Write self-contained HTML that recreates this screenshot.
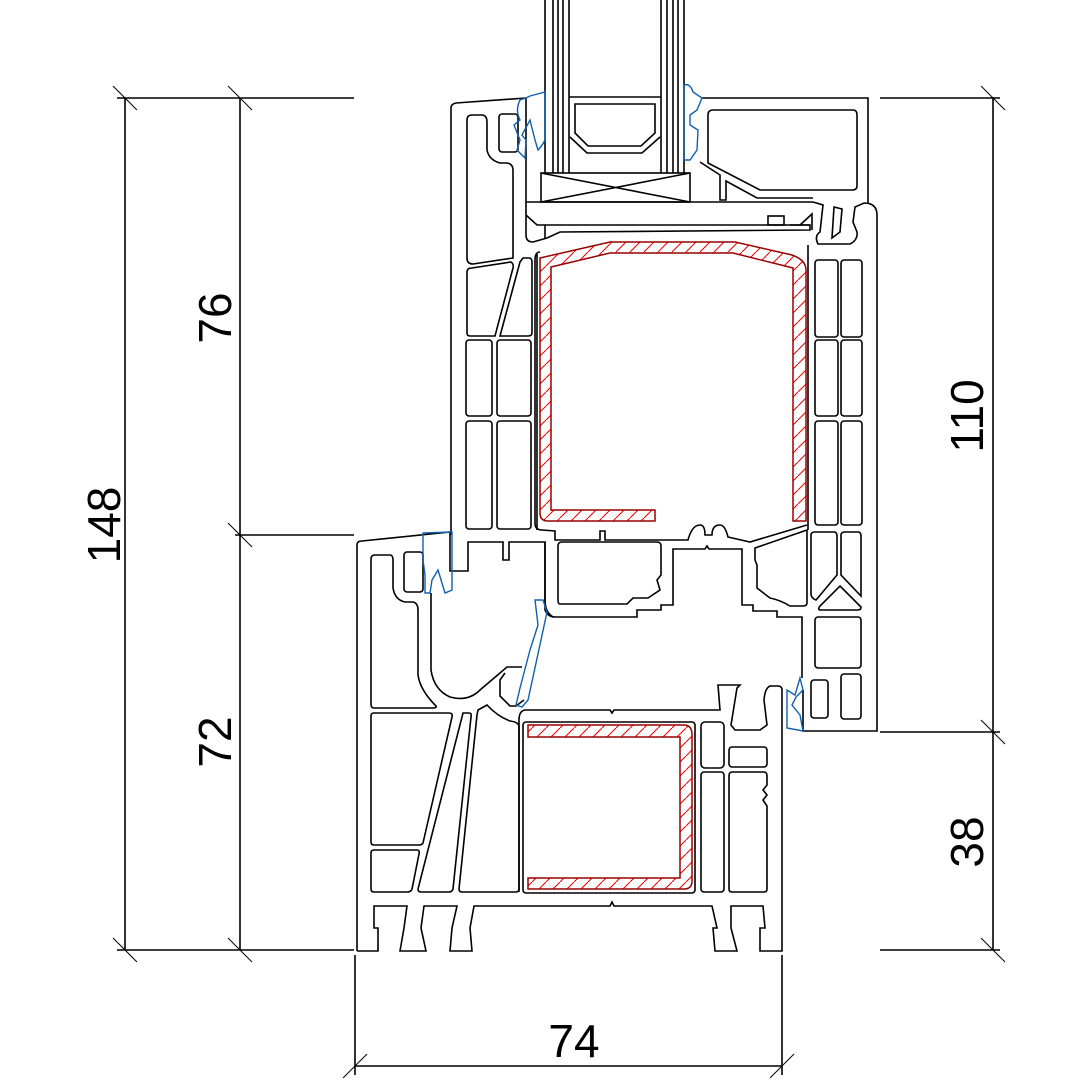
<!DOCTYPE html>
<html><head><meta charset="utf-8"><style>
html,body{margin:0;padding:0;background:#fff;}
svg{display:block;}
text{font-family:"Liberation Sans",sans-serif;font-size:46px;fill:#000;}
</style></head><body>
<svg width="1080" height="1080" viewBox="0 0 1080 1080" xmlns="http://www.w3.org/2000/svg">
<defs>
<pattern id="h" patternUnits="userSpaceOnUse" width="14" height="14">
<path d="M-2,16 L16,-2" stroke="#e00" stroke-width="1"/>
</pattern>
</defs>
<g stroke="#000" stroke-width="1.6" fill="none">
<line x1="117" y1="98" x2="354" y2="98"/>
<line x1="117" y1="950" x2="354" y2="950"/>
<line x1="235" y1="535" x2="354" y2="535"/>
<line x1="125" y1="98" x2="125" y2="950"/>
<line x1="240" y1="98" x2="240" y2="950"/>
<line x1="880" y1="98" x2="1000" y2="98"/>
<line x1="880" y1="732" x2="1000" y2="732"/>
<line x1="880" y1="950" x2="1000" y2="950"/>
<line x1="993" y1="98" x2="993" y2="950"/>
<line x1="355" y1="955" x2="355" y2="1075"/>
<line x1="782" y1="955" x2="782" y2="1075"/>
<line x1="355" y1="1066" x2="783" y2="1066"/>
<g stroke-width="1">
<line x1="113" y1="86" x2="137" y2="110"/><line x1="228" y1="86" x2="252" y2="110"/>
<line x1="113" y1="938" x2="137" y2="962"/><line x1="228" y1="938" x2="252" y2="962"/>
<line x1="228" y1="523" x2="252" y2="547"/>
<line x1="981" y1="86" x2="1005" y2="110"/><line x1="981" y1="720" x2="1005" y2="744"/><line x1="981" y1="938" x2="1005" y2="962"/>
<line x1="343" y1="1078" x2="367" y2="1054"/><line x1="770" y1="1078" x2="794" y2="1054"/>
</g>

<path d="M545,0 V173 M553,0 V173 M558,0 V173 M563,0 V173 M569,0 V173 M661,0 V173 M667,0 V173 M673,0 V173 M678,0 V173 M684,0 V173"/>
<path d="M569,97 H661"/>
<path d="M575,104 H655 V133 L641,146 H588 L575,133 Z"/>
<path d="M570,137 L587,153 H642 L660,137"/>
<rect x="541" y="173" width="149" height="29"/>
<path d="M541,173 L690,202 M690,173 L541,202"/>

<path d="M451,108 Q451,104 456,103 L526,98"/>
<path d="M451,108 V535"/>
<path d="M526,98 V202 H813"/>
<path d="M467,120 Q467,115 472,115 L483,115 Q487,116 487,122 V150 Q489,160 500,163 L507,163 Q513,164 513,170 V258 L473,264 Q467,264 467,258 Z"/>
<rect x="499" y="114" width="19" height="38" rx="3"/>
<path d="M526,202 V235 Q526,242 533,242 L547,238 L560,232 L810,230 V225 L790,225"/>
<path d="M526,215 L537,225 H545 V238"/>
<path d="M545,225 H810"/>
<rect x="768" y="216" width="16" height="9"/>
<path d="M800,225 L812,214 V230"/>
<path d="M702,98 H868 V203"/>
<path d="M713,110 H853 Q857,110 857,115 V186 Q857,190 852,190 H760 L708,163 V115 Q708,110 713,110 Z"/>
<path d="M700,162 L720,175 V200 H726 V181 L757,198 H813"/>
<path d="M813,202 L823,205 L820,232 Q814,236 818,244 H850 Q858,240 857,232 L853,222 L855,207 L864,203 Q877,203 877,215 V731 H803 V690"/>
<path d="M834,207 L842,209 L840,232 L832,238 Z"/>
<path d="M537,254 V530"/>
<path d="M467,272 Q467,268 472,268 L511,262 Q514,264 513,268 L495,336 H470 Q467,336 467,333 Z"/>
<path d="M523,258 H529 Q532,258 532,262 V333 Q532,336 528,336 H500 L520,262 Z"/>
<rect x="466" y="340" width="26" height="76" rx="3"/><rect x="497" y="340" width="34" height="76" rx="3"/>
<rect x="466" y="421" width="26" height="108" rx="3"/><rect x="497" y="421" width="34" height="108" rx="3"/>
<path d="M808,245 V530"/>
<rect x="815" y="260" width="23" height="77" rx="3"/><rect x="841" y="260" width="21" height="77" rx="3"/>
<rect x="815" y="340" width="23" height="76" rx="3"/><rect x="841" y="340" width="21" height="76" rx="3"/>
<rect x="815" y="421" width="23" height="104" rx="3"/><rect x="841" y="421" width="21" height="104" rx="3"/>
<path d="M540,252 Q535,252 535,260 V523 Q535,530 542,530 L555,531 V540 H600 V531 H605 V540 H688 Q692,525 700,525 Q705,525 705,535 H712 Q712,525 720,525 Q725,525 728,537 L750,542 L807,525"/>
<path d="M545,542 V610 Q548,617 555,617 H637 V610 H661 V605 H673 V549 H705 L707,546 L709,549 H742 V605 H753 V611 H777 V617 H802 V678"/>
<path d="M558,546 Q558,542 562,542 H657 Q661,542 661,546 V575 L657,580 L660,590 L648,598 L633,598 L627,604 H560 Q558,604 558,600 Z"/>
<path d="M755,548 L807,530 V603 Q807,606 803,606 H790 Q780,600 770,598 L757,588 L757,565 L755,560 Z"/>
<path d="M811,535 Q811,532 815,532 H834 Q837,532 837,536 V575 L816,600 Q811,598 811,594 Z"/>
<path d="M841,535 Q841,532 845,532 H858 Q861,532 861,536 V596 L841,575 Z"/>
<path d="M840,586 L861,607 Q861,610 858,610 H821 Q817,610 820,606 Z"/>
<rect x="815" y="617" width="46" height="51" rx="3"/>
<rect x="811" y="680" width="17" height="38" rx="3"/>
<rect x="841" y="674" width="20" height="45" rx="3"/>
<path d="M357,951 V545 Q357,541 362,541 L450,532 V571 H468 V542 H503 V560 H509 V542 H545 V600 Q545,612 553,617"/>
<path d="M357,951 H378 V928 H374 V906 H407 L404,928 L400,951 H426 L421,928 L424,906 H457 L452,928 L450,951 H472 L470,928 L474,906 H610 L612,902 L614,906 H712 L717,928 H713 L715,951 H737 L731,928 V906 H763 L765,928 H760 V951 H782 V690 Q782,686 778,686 H770 Q765,688 764,700 L767,725 L760,730 H735 L731,725 L737,688 L740,685 H718 L720,710 H614 L612,713 L610,710 H525 Q519,711 519,720 V892"/>
<path d="M375,555 H390 Q393,555 393,560 V588 Q395,600 405,602 H413 Q418,603 418,610 V675 Q420,690 436,706 Q437,708 433,708 H374 Q371,708 371,704 V559 Q371,555 375,555 Z"/>
<rect x="404" y="552" width="19" height="40" rx="3"/>
<path d="M431,593 V670 Q434,690 450,697 Q468,702 480,690 L507,667 H522"/>
<path d="M505,673 L500,680 V696 L510,706 L516,706 L524,700"/>
<path d="M374,713 H449 Q453,713 452,717 L423,843 Q422,845 419,845 H374 Q371,845 371,842 V716 Q371,713 374,713 Z"/>
<path d="M374,850 H417 Q420,850 419,854 L412,889 Q411,892 407,892 H374 Q371,892 371,889 V853 Q371,850 374,850 Z"/>
<path d="M463,713 H469 Q472,713 471,717 L453,889 Q452,892 449,892 H421 Q418,892 418,889 Z"/>
<path d="M478,710 L487,705 Q497,716 510,721 Q519,722 519,727 V889 Q519,892 516,892 H462 Q459,892 459,889 L477,715 Z"/>
<rect x="523" y="722" width="172" height="171" rx="3"/>
<rect x="701" y="722" width="23" height="46" rx="4"/>
<rect x="729" y="747" width="38" height="20" rx="3"/>
<rect x="701" y="772" width="23" height="120" rx="3"/>
<path d="M732,772 H764 Q767,772 767,776 V785 L763,790 L767,795 L763,800 L767,806 V889 Q767,892 764,892 H732 Q729,892 729,889 V776 Q729,772 732,772 Z"/>
</g>
<path d="M540,258 L610,242 H735 L792,255 Q806,260 806,270 V521 H793 V268 L733,253 H610 L551,267 V510 H655 V521 H548 Q540,521 540,513 Z" fill="url(#h)" stroke="#900" stroke-width="1.5"/>
<path d="M528,725 H684 Q692,725 692,735 V881 Q692,889 684,889 H528 V878 H680 V737 H528 Z" fill="url(#h)" stroke="#900" stroke-width="1.5"/>
<g stroke="#1060b0" stroke-width="1.4" fill="none">
<path d="M526,98 L520,100 Q515,110 520,120 L514,125 L520,140 L517,150 L525,158 L526,140 L522,135 L530,120 L535,140 L538,150 Q542,146 545,140 V92 L530,96 Z"/>
<path d="M684,85 Q690,83 693,92 L702,98 L697,110 L690,115 V125 L698,130 L697,150 L690,160 L684,160 Z"/>
<path d="M423,533 L452,532 V590 L445,593 L438,570 L432,580 L430,593 H425 V575 L423,560 Z"/>
<path d="M535,600 L543,600 L547,612 L541,640 L528,700 L522,707 L516,705 L520,688 L530,650 L538,625 Z"/>
<path d="M803,690 L800,678 L795,695 L787,690 V728 L803,731 L800,715 L792,705 L796,697 Z"/>
</g>
<text x="574" y="1057" text-anchor="middle">74</text>
<text transform="translate(120,525) rotate(-90)" text-anchor="middle">148</text>
<text transform="translate(231,318) rotate(-90)" text-anchor="middle">76</text>
<text transform="translate(231,742) rotate(-90)" text-anchor="middle">72</text>
<text transform="translate(983,416) rotate(-90)" text-anchor="middle">110</text>
<text transform="translate(983,842) rotate(-90)" text-anchor="middle">38</text>
</svg>
</body></html>
